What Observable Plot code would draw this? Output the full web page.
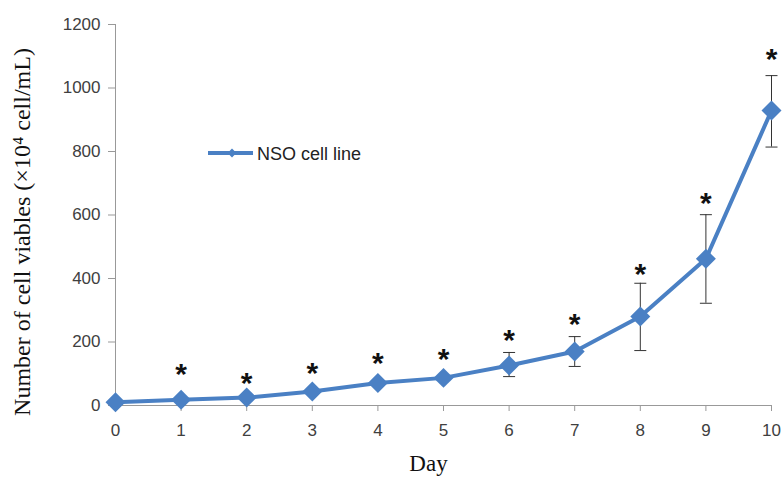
<!DOCTYPE html>
<html>
<head>
<meta charset="utf-8">
<script src="https://cdn.jsdelivr.net/npm/d3@7"></script>
<script src="https://cdn.jsdelivr.net/npm/@observablehq/plot@0.6"></script>
<style>
  body { margin: 0; background: #fff; }
  #wrap { position: relative; width: 782px; height: 481px; }
  #legend { position: absolute; left: 206px; top: 140px; }
</style>
</head>
<body>
<div id="wrap"></div>
<script>
const days = [0, 1, 2, 3, 4, 5, 6, 7, 8, 9, 10];
const means = [10, 18, 25, 44, 71, 87, 126, 170, 280, 462, 929];
const errLow = [6, 14, 20, 38, 64, 80, 91, 123, 173, 322, 814];
const errHigh = [14, 22, 30, 50, 78, 94, 167, 217, 385, 601, 1039];
const starY = [null, 116, 90, 120, 151, 163, 224, 274, 431, 655, 1109];
const yTicks = [0, 200, 400, 600, 800, 1000, 1200];
const seriesName = "NSO cell line";
const yTitle = "Number of cell viables (×10⁴ cell/mL)";
const xTitle = "Day";

const color = "#4a80c4";
const rows = days.map((d, i) => ({day: d, mean: means[i], lo: errLow[i], hi: errHigh[i], star: starY[i]}));
const stars = rows.filter(r => r.star != null);

const capSymbol = {
  draw(context, size) {
    const w = 6;
    context.moveTo(-w, 0);
    context.lineTo(w, 0);
  }
};

const sans = "'Liberation Sans', Arial, sans-serif";
const serif = "'Liberation Serif', 'Times New Roman', serif";

const chart = Plot.plot({
  width: 782,
  height: 481,
  marginLeft: 115,
  marginRight: 11,
  marginTop: 24,
  marginBottom: 76,
  style: {fontFamily: sans, fontSize: "17px", color: "#404040"},
  x: {domain: [0, 10]},
  y: {domain: [0, 1200]},
  marks: [
    Plot.axisY({ticks: yTicks, tickFormat: d => String(d), tickSize: 7, tickPadding: 8, label: null, stroke: "#999", fill: "#404040", fontSize: 17}),
    Plot.axisX({ticks: days, tickFormat: d => String(d), tickSize: 6, tickPadding: 12, label: null, stroke: "#999", fill: "#404040", fontSize: 17}),
    Plot.ruleX([0], {stroke: "#999", strokeWidth: 1}),
    Plot.ruleY([0], {stroke: "#999", strokeWidth: 1}),
    Plot.ruleX(rows, {x: "day", y1: "lo", y2: "hi", stroke: "#333", strokeWidth: 1}),
    Plot.dot(rows, {x: "day", y: "lo", symbol: capSymbol, stroke: "#333", strokeWidth: 1, fill: "none"}),
    Plot.dot(rows, {x: "day", y: "hi", symbol: capSymbol, stroke: "#333", strokeWidth: 1, fill: "none"}),
    Plot.line(rows, {x: "day", y: "mean", stroke: color, strokeWidth: 4}),
    Plot.dot(rows, {x: "day", y: "mean", symbol: "diamond2", r: 9, fill: color, stroke: "none"}),
    Plot.text(stars, {x: "day", y: "star", text: () => "*", fontSize: 30, fontWeight: "bold", fill: "#111", dy: 6, fontFamily: sans}),
    Plot.text([yTitle], {frameAnchor: "left", textAnchor: "middle", rotate: -90, dx: -93, dy: 17, fontSize: 24, fill: "#111", fontFamily: serif}),
    Plot.text([xTitle], {frameAnchor: "bottom", textAnchor: "middle", dx: -15, dy: 65, fontSize: 23, fill: "#111", fontFamily: serif})
  ]
});
document.getElementById("wrap").appendChild(chart);

// Legend
const leg = d3.select("#wrap").append("div").attr("id", "legend")
  .append("svg").attr("width", 200).attr("height", 28);
leg.append("line").attr("x1", 2).attr("x2", 47).attr("y1", 13).attr("y2", 13)
  .attr("stroke", color).attr("stroke-width", 4);
leg.append("path").attr("d", d3.symbol(d3.symbolDiamond2, 50)()).attr("transform", "translate(26,13)").attr("fill", color);
leg.append("text").attr("x", 51).attr("y", 20).text(seriesName)
  .attr("font-family", sans).attr("font-size", 18).attr("fill", "#222");
</script>
</body>
</html>
